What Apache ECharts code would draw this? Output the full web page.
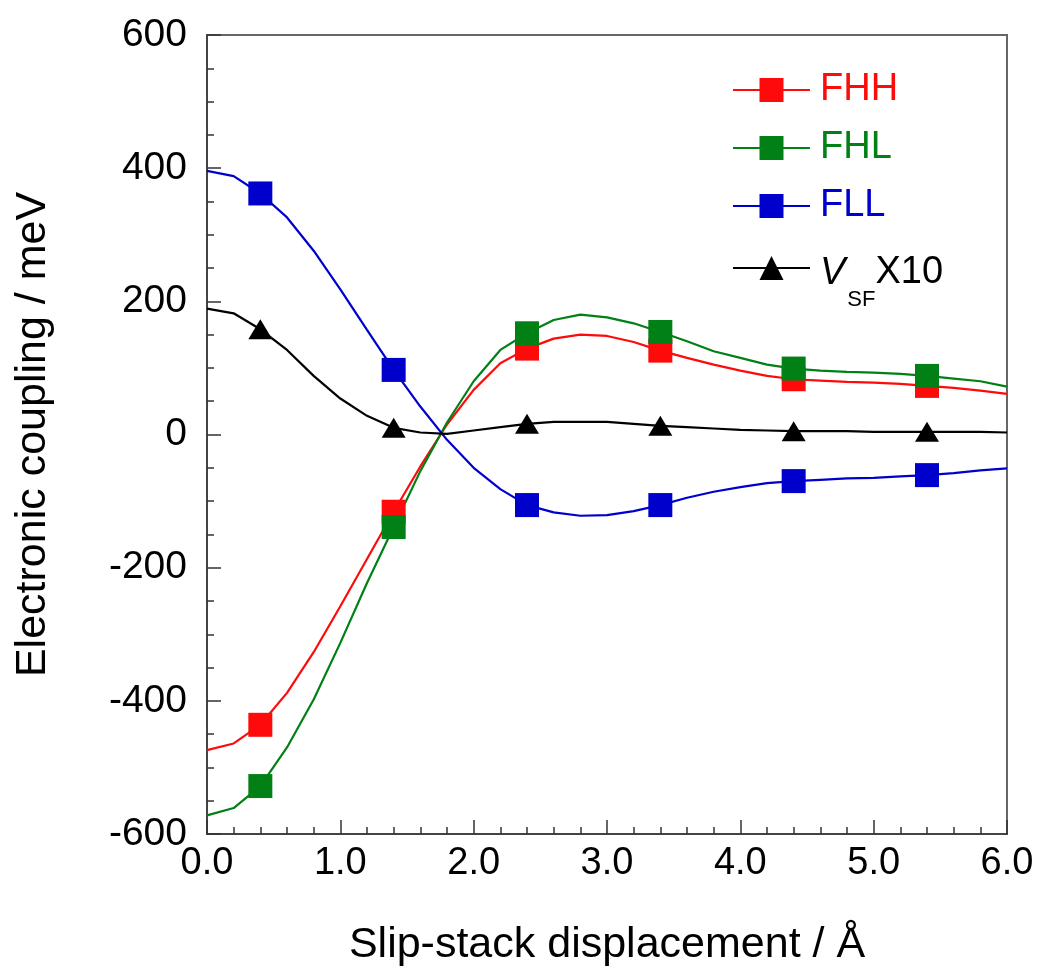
<!DOCTYPE html>
<html>
<head>
<meta charset="utf-8">
<script src="https://cdn.jsdelivr.net/npm/echarts@6/dist/echarts.min.js"></script>
<style>
  html, body { margin: 0; padding: 0; background: #fff; }
  #chart { width: 1038px; height: 973px; }
</style>
</head>
<body>
<div id="chart"></div>
<script>
// 滑移位移 (Å)
const displacement = [
  0.0, 0.2, 0.4, 0.6, 0.8, 1.0, 1.2, 1.4, 1.6, 1.8,
  2.0, 2.2, 2.4, 2.6, 2.8, 3.0, 3.2, 3.4, 3.6, 3.8,
  4.0, 4.2, 4.4, 4.6, 4.8, 5.0, 5.2, 5.4, 5.6, 5.8, 6.0
]
// 只在这些位置画标记
const markerAt = [0.4, 1.4, 2.4, 3.4, 4.4, 5.4]

// 电子耦合 (meV)
const fhh = [
  -474, -464, -436, -388, -327, -258, -187, -116, -48, 15,
  67, 107, 129, 144, 150, 148, 139, 126, 115, 105,
  96, 88, 83, 81, 79, 78, 76, 73, 70, 66, 61
]
const fhl = [
  -572, -561, -528, -470, -398, -313, -223, -139, -55, 18,
  80, 127, 152, 172, 180, 176, 167, 154, 140, 125,
  115, 105, 99, 96, 94, 93, 91, 88, 84, 80, 72
]
const fll = [
  396, 388, 362, 326, 276, 218, 157, 97, 42, -8,
  -50, -82, -106, -117, -122, -121, -115, -106, -95, -86,
  -79, -73, -70, -68, -66, -65, -63, -61, -58, -54, -51
]
const vsf10 = [
  189, 182, 158, 127, 88, 54, 28, 10, 3, 1,
  6, 11, 16, 19, 19, 19, 16, 13, 11, 9,
  7, 6, 5, 5, 5, 4, 4, 4, 4, 4, 3
]

const xTicks = [0, 1, 2, 3, 4, 5, 6]
const yTicks = [-600, -400, -200, 0, 200, 400, 600]

const FONT = 'Liberation Sans'
const colors = { fhh: '#ff0a0a', fhl: '#008015', fll: '#0000cc', vsf: '#000000' }

// 组装数据点，非标记位置不画符号
const buildData = (values) => displacement.map((x, i) => {
  const marked = markerAt.some(m => Math.abs(m - x) < 1e-6)
  return marked ? { value: [x, values[i]] } : { value: [x, values[i]], symbol: 'none' }
})

const makeSeries = (name, values, color, symbol, symbolSize) => ({
  name,
  type: 'line',
  data: buildData(values),
  symbol,
  symbolSize,
  showAllSymbol: true,
  lineStyle: { color, width: 2.2 },
  itemStyle: { color },
  emphasis: { disabled: true }
})

const chart = echarts.init(document.getElementById('chart'))

const option = {
  animation: false,
  backgroundColor: '#fff',
  grid: {
    left: 207, right: 31, top: 35, bottom: 139,
    show: true, borderColor: '#666', borderWidth: 2
  },
  legend: [
    {
      orient: 'vertical',
      left: 732, top: 70,
      padding: 0,
      itemWidth: 77, itemHeight: 30, itemGap: 18,
      textStyle: { fontFamily: FONT, fontSize: 38, lineHeight: 40, padding: [0, 0, 0, 5] },
      data: [
        { name: 'FHH', textStyle: { color: colors.fhh } },
        { name: 'FHL', textStyle: { color: colors.fhl } },
        { name: 'FLL', textStyle: { color: colors.fll } }
      ]
    },
    {
      // V_SF X10 图例，下标用富文本
      orient: 'vertical',
      left: 732, top: 248,
      padding: 0,
      itemWidth: 77, itemHeight: 30,
      data: ['VSF'],
      formatter: () => '{v|V}{s|SF}{x|X10}',
      textStyle: {
        fontFamily: FONT,
        padding: [0, 0, 0, 5],
        rich: {
          v: { fontFamily: FONT, fontSize: 38, fontStyle: 'italic', lineHeight: 40, padding: [6, 0, 0, 0], verticalAlign: 'top', color: '#000' },
          s: { fontFamily: FONT, fontSize: 22, lineHeight: 22, padding: [41, 0, 0, 2], verticalAlign: 'top', color: '#000' },
          x: { fontFamily: FONT, fontSize: 38, lineHeight: 40, padding: [6, 0, 0, 0], verticalAlign: 'top', color: '#000' }
        }
      }
    }
  ],
  xAxis: {
    type: 'value',
    min: xTicks[0], max: xTicks[xTicks.length - 1], interval: 1,
    name: 'Slip-stack displacement / Å',
    nameLocation: 'middle',
    nameGap: 90,
    nameTextStyle: { fontFamily: FONT, fontSize: 43, color: '#000' },
    axisLine: { show: true, onZero: false, lineStyle: { color: '#444', width: 2 } },
    axisTick: { show: true, inside: true, length: 14, lineStyle: { color: '#333', width: 1.5 } },
    minorTick: { show: true, splitNumber: 5, length: 7, lineStyle: { color: '#333', width: 1.5 } },
    splitLine: { show: false },
    axisLabel: {
      fontFamily: FONT, fontSize: 38, color: '#000', margin: 11,
      formatter: v => v.toFixed(1)
    }
  },
  yAxis: {
    type: 'value',
    min: yTicks[0], max: yTicks[yTicks.length - 1], interval: 200,
    name: 'Electronic coupling / meV',
    nameLocation: 'middle',
    nameGap: 152,
    nameTextStyle: { fontFamily: FONT, fontSize: 43, color: '#000' },
    axisLine: { show: true, lineStyle: { color: '#444', width: 2 } },
    axisTick: { show: true, inside: true, length: 14, lineStyle: { color: '#333', width: 1.5 } },
    minorTick: { show: true, splitNumber: 4, length: 7, lineStyle: { color: '#333', width: 1.5 } },
    splitLine: { show: false },
    axisLabel: { fontFamily: FONT, fontSize: 39, color: '#000', margin: 20 }
  },
  series: [
    makeSeries('FHH', fhh, colors.fhh, 'rect', 24),
    makeSeries('FHL', fhl, colors.fhl, 'rect', 24),
    makeSeries('FLL', fll, colors.fll, 'rect', 24),
    makeSeries('VSF', vsf10, colors.vsf, 'triangle', [24, 20])
  ]
}

chart.setOption(option)
</script>
</body>
</html>
